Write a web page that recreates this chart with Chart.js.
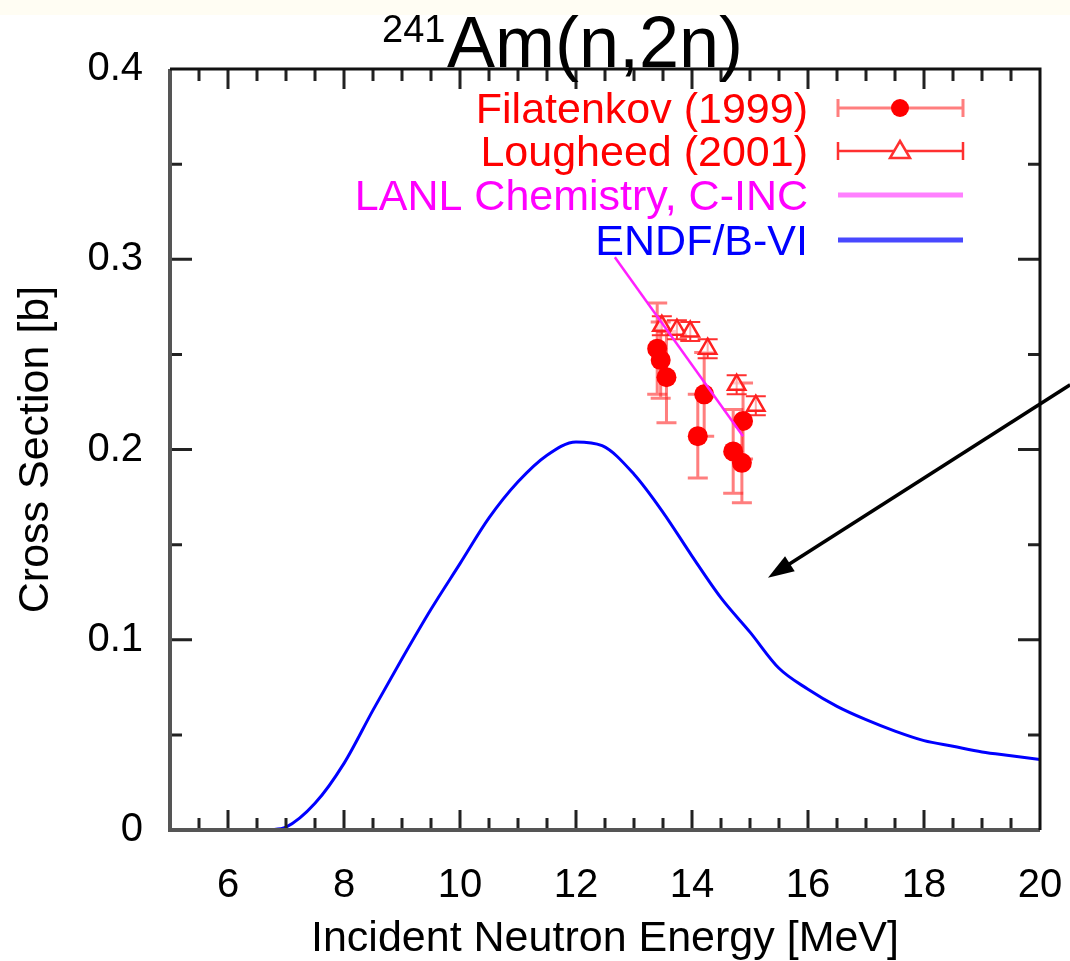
<!DOCTYPE html>
<html lang="es">
<head>
<meta charset="utf-8">
<title>241Am(n,2n)</title>
<script src="https://cdn.jsdelivr.net/npm/chart.js@4.4.1/dist/chart.umd.min.js"></script>
<style>
  html, body { margin: 0; padding: 0; background: #fff; }
  canvas { display: block; }
</style>
</head>
<body>
<canvas id="amChart" width="1070" height="961"></canvas>
<script>
// Datos (energía en MeV, sección eficaz en barn)
const endfEnergia = [6.7, 7.0, 7.5, 8.0, 8.5, 9.0, 9.5, 10.0, 10.5, 11.0, 11.5, 12.0, 12.45, 13.0, 13.5, 14.0, 14.5, 15.0, 15.5, 16.0, 16.5, 17.0, 17.5, 18.0, 18.5, 19.0, 19.5, 20.0];
const endfSeccion = [0, 0.0015, 0.014, 0.035, 0.063, 0.090, 0.116, 0.140, 0.164, 0.183, 0.197, 0.204, 0.202, 0.187, 0.167, 0.144, 0.122, 0.104, 0.085, 0.074, 0.065, 0.058, 0.052, 0.047, 0.044, 0.041, 0.039, 0.037];

const lanlEnergia = [12.67, 14.88];
const lanlSeccion = [0.301, 0.207];

const filaEnergia = [13.40, 13.46, 13.56, 14.10, 14.21, 14.71, 14.86, 14.88];
const filaSeccion = [0.253, 0.247, 0.238, 0.207, 0.229, 0.199, 0.193, 0.215];
const filaError = [0.024, 0.020, 0.024, 0.022, 0.022, 0.022, 0.021, 0.020];

const lougEnergia = [13.48, 13.74, 13.97, 14.27, 14.77, 15.10];
const lougSeccion = [0.265, 0.263, 0.262, 0.253, 0.234, 0.223];
const lougError = [0.005, 0.005, 0.005, 0.005, 0.005, 0.005];

const ticksX = [6, 8, 10, 12, 14, 16, 18, 20];
const ticksY = [0, 0.1, 0.2, 0.3, 0.4];

// Flecha (en coordenadas de datos)
const flechaDesde = [20.52, 0.234];
const flechaHasta = [15.31, 0.1326];

const fuente = "'Liberation Sans', Arial, sans-serif";

function puntos(xs, ys) {
    return xs.map((v, i) => ({ x: v, y: ys[i] }));
}

// Barras de error, ejes con marcas hacia dentro, leyenda, título y flecha
const pluginDibujo = {
    id: 'dibujo',
    beforeDraw(chart) {
        const ctx = chart.ctx;
        ctx.save();
        ctx.fillStyle = '#ffffff';
        ctx.fillRect(0, 0, chart.width, chart.height);
        ctx.fillStyle = '#fffdf3';
        ctx.fillRect(0, 0, chart.width, 15);
        ctx.restore();
    },
    beforeDatasetsDraw(chart) {
        const { ctx, scales: { x, y } } = chart;
        chart.data.datasets.forEach(ds => {
            if (!ds.errores) return;
            ctx.save();
            ctx.strokeStyle = ds.colorError;
            ctx.lineWidth = ds.anchoError;
            ds.data.forEach((p, j) => {
                const px = x.getPixelForValue(p.x);
                const y1 = y.getPixelForValue(p.y - ds.errores[j]);
                const y2 = y.getPixelForValue(p.y + ds.errores[j]);
                ctx.beginPath();
                ctx.moveTo(px, y1); ctx.lineTo(px, y2);
                ctx.moveTo(px - 10, y1); ctx.lineTo(px + 10, y1);
                ctx.moveTo(px - 10, y2); ctx.lineTo(px + 10, y2);
                ctx.stroke();
            });
            ctx.restore();
        });
    },
    afterDraw(chart) {
        const { ctx, chartArea: a, scales: { x, y } } = chart;
        ctx.save();

        // Marcas menores y mayores
        ctx.strokeStyle = '#222';
        ctx.lineWidth = 3;
        ctx.beginPath();
        for (let v = 5.5; v < 20; v += 0.5) {
            const px = x.getPixelForValue(v);
            const largo = ticksX.includes(v) ? 20 : 12;
            ctx.moveTo(px, a.bottom); ctx.lineTo(px, a.bottom - largo);
            ctx.moveTo(px, a.top); ctx.lineTo(px, a.top + largo);
        }
        for (let k = 1; k < 8; k++) {
            const v = k * 0.05;
            const py = y.getPixelForValue(v);
            const largo = k % 2 === 0 ? 22 : 12;
            ctx.moveTo(a.left, py); ctx.lineTo(a.left + largo, py);
            ctx.moveTo(a.right, py); ctx.lineTo(a.right - largo, py);
        }
        ctx.stroke();

        // Marco
        ctx.lineWidth = 4;
        ctx.strokeStyle = '#555';
        ctx.beginPath();
        ctx.moveTo(a.left, a.top); ctx.lineTo(a.left, a.bottom); ctx.lineTo(a.right, a.bottom);
        ctx.stroke();
        ctx.lineWidth = 3;
        ctx.strokeStyle = '#111';
        ctx.beginPath();
        ctx.moveTo(a.left, a.top); ctx.lineTo(a.right, a.top); ctx.lineTo(a.right, a.bottom);
        ctx.stroke();

        // Flecha
        const fx0 = x.getPixelForValue(flechaDesde[0]), fy0 = y.getPixelForValue(flechaDesde[1]);
        const fx1 = x.getPixelForValue(flechaHasta[0]), fy1 = y.getPixelForValue(flechaHasta[1]);
        const ang = Math.atan2(fy1 - fy0, fx1 - fx0);
        ctx.strokeStyle = '#000';
        ctx.fillStyle = '#000';
        ctx.lineWidth = 3.5;
        ctx.beginPath();
        ctx.moveTo(fx0, fy0);
        ctx.lineTo(fx1 - 18 * Math.cos(ang), fy1 - 18 * Math.sin(ang));
        ctx.stroke();
        ctx.beginPath();
        ctx.moveTo(fx1, fy1);
        ctx.lineTo(fx1 - 26 * Math.cos(ang) + 9 * Math.sin(ang), fy1 - 26 * Math.sin(ang) - 9 * Math.cos(ang));
        ctx.lineTo(fx1 - 26 * Math.cos(ang) - 9 * Math.sin(ang), fy1 - 26 * Math.sin(ang) + 9 * Math.cos(ang));
        ctx.closePath();
        ctx.fill();

        // Leyenda
        const filas = [108, 151, 195, 240];
        const textoDer = 808, m0 = 838, m1 = 963, mc = 900;
        const tamLeyenda = 43;
        ctx.font = tamLeyenda + 'px ' + fuente;
        ctx.textAlign = 'right';
        ctx.textBaseline = 'alphabetic';
        const entradas = [
            { texto: 'Filatenkov (1999)', color: '#ff0000' },
            { texto: 'Lougheed (2001)', color: '#ff0000' },
            { texto: 'LANL Chemistry, C-INC', color: '#ff00ff' },
            { texto: 'ENDF/B-VI', color: '#0000ff' }
        ];
        entradas.forEach((e, i) => {
            ctx.fillStyle = e.color;
            ctx.fillText(e.texto, textoDer, filas[i] + tamLeyenda * 0.358);
        });
        // muestras
        ctx.lineWidth = 3;
        ctx.strokeStyle = 'rgba(255,40,40,0.6)';
        ctx.beginPath();
        ctx.moveTo(m0, filas[0]); ctx.lineTo(m1, filas[0]);
        ctx.moveTo(m0, filas[0] - 9); ctx.lineTo(m0, filas[0] + 9);
        ctx.moveTo(m1, filas[0] - 9); ctx.lineTo(m1, filas[0] + 9);
        ctx.stroke();
        ctx.fillStyle = '#ff0000';
        ctx.beginPath();
        ctx.arc(mc, filas[0], 9, 0, Math.PI * 2);
        ctx.fill();

        ctx.strokeStyle = '#ff3030';
        ctx.lineWidth = 2.5;
        ctx.beginPath();
        ctx.moveTo(m0, filas[1]); ctx.lineTo(m1, filas[1]);
        ctx.moveTo(m0, filas[1] - 9); ctx.lineTo(m0, filas[1] + 9);
        ctx.moveTo(m1, filas[1] - 9); ctx.lineTo(m1, filas[1] + 9);
        ctx.stroke();
        ctx.fillStyle = '#ffffff';
        ctx.beginPath();
        ctx.moveTo(mc, filas[1] - 10); ctx.lineTo(mc + 10, filas[1] + 7); ctx.lineTo(mc - 10, filas[1] + 7);
        ctx.closePath();
        ctx.fill();
        ctx.stroke();

        ctx.lineWidth = 5;
        ctx.strokeStyle = '#ff80ff';
        ctx.beginPath();
        ctx.moveTo(m0, filas[2]); ctx.lineTo(m1, filas[2]);
        ctx.stroke();
        ctx.strokeStyle = '#4848ff';
        ctx.beginPath();
        ctx.moveTo(m0, filas[3]); ctx.lineTo(m1, filas[3]);
        ctx.stroke();

        // Título con superíndice
        ctx.fillStyle = '#000';
        ctx.textAlign = 'left';
        ctx.font = '38px ' + fuente;
        ctx.fillText('241', 382, 42);
        ctx.font = '72px ' + fuente;
        ctx.fillText('Am(n,2n)', 447, 67);

        ctx.restore();
    }
};

const amCtx = document.getElementById('amChart').getContext('2d');

const amChart = new Chart(amCtx, {
    type: 'scatter',
    data: {
        datasets: [
            {
                label: 'LANL Chemistry, C-INC',
                data: puntos(lanlEnergia, lanlSeccion),
                showLine: true,
                borderColor: '#ff20ff',
                borderWidth: 2.5,
                pointRadius: 0,
                order: 0
            },
            {
                label: 'Filatenkov (1999)',
                data: puntos(filaEnergia, filaSeccion),
                errores: filaError,
                colorError: 'rgba(255,40,40,0.6)',
                anchoError: 3,
                pointStyle: 'circle',
                pointRadius: 10,
                backgroundColor: '#ff0000',
                borderWidth: 0,
                order: 1
            },
            {
                label: 'Lougheed (2001)',
                data: puntos(lougEnergia, lougSeccion),
                errores: lougError,
                colorError: '#ff3030',
                anchoError: 2,
                pointStyle: 'triangle',
                pointRadius: 10,
                backgroundColor: 'rgba(255,255,255,0.6)',
                borderColor: '#ff2020',
                borderWidth: 2.5,
                order: 2
            },
            {
                label: 'ENDF/B-VI',
                data: puntos(endfEnergia, endfSeccion),
                showLine: true,
                borderColor: '#0000ff',
                borderWidth: 3,
                pointRadius: 0,
                cubicInterpolationMode: 'monotone',
                order: 3
            }
        ]
    },
    options: {
        responsive: false,
        animation: false,
        devicePixelRatio: 1,
        layout: { padding: { top: 69, right: 30, left: 0, bottom: 0 } },
        plugins: {
            legend: { display: false },
            tooltip: { enabled: false },
            title: { display: false }
        },
        scales: {
            x: {
                type: 'linear',
                min: 5,
                max: 20,
                afterBuildTicks: s => { s.ticks = ticksX.map(v => ({ value: v })); },
                afterFit: s => { s.height = 131; s.paddingLeft = 0; s.paddingRight = 0; },
                grid: { display: false, drawTicks: false },
                border: { display: false },
                ticks: { color: '#000', padding: 32, maxRotation: 0, font: { family: fuente, size: 40 } },
                title: {
                    display: true,
                    text: 'Incident Neutron Energy [MeV]',
                    color: '#000',
                    padding: 0,
                    font: { family: fuente, size: 43, lineHeight: 1.0 }
                }
            },
            y: {
                type: 'linear',
                min: 0,
                max: 0.4,
                afterBuildTicks: s => { s.ticks = ticksY.map(v => ({ value: v })); },
                afterFit: s => { s.width = 170; s.paddingTop = 0; s.paddingBottom = 0; },
                grid: { display: false, drawTicks: false },
                border: { display: false },
                ticks: { color: '#000', padding: 27, font: { family: fuente, size: 40 } },
                title: {
                    display: true,
                    text: 'Cross Section [b]',
                    color: '#000',
                    padding: { top: 15, bottom: 0 },
                    font: { family: fuente, size: 43, lineHeight: 1.0 }
                }
            }
        }
    },
    plugins: [pluginDibujo]
});
</script>
</body>
</html>
